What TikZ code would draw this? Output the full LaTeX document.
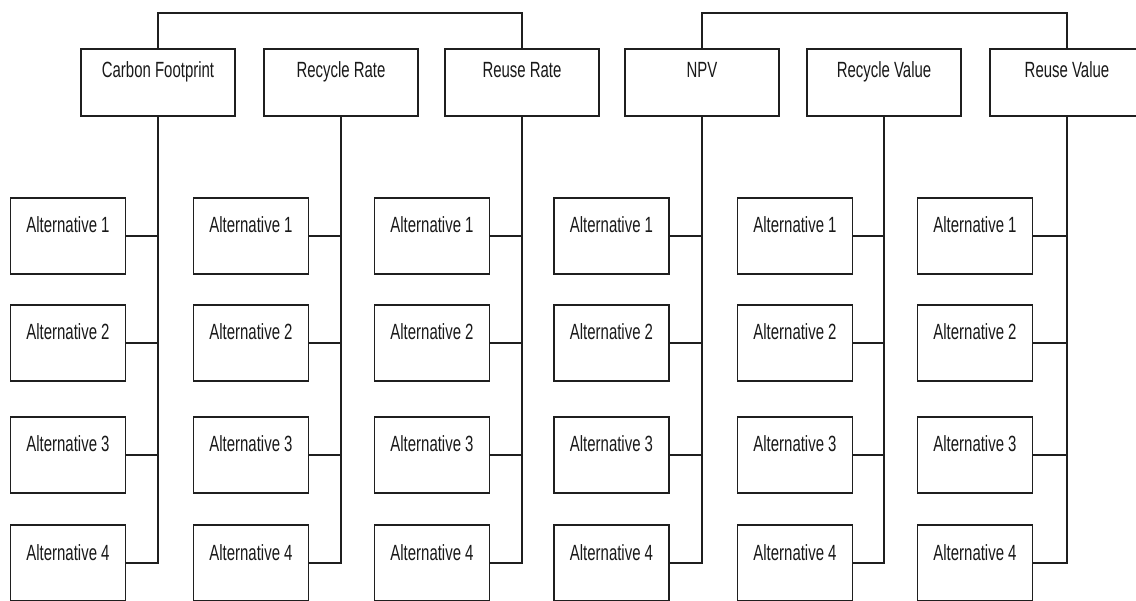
\documentclass[tikz,border=0pt]{standalone}
\usepackage{fontspec}
\newfontfamily\narrowsans[FakeStretch=0.68]{Liberation Sans}
\begin{document}
\begin{tikzpicture}[x=1pt,y=-1pt,
  ink/.style={draw=black!88,line width=1.2pt},
  boxtext/.style={font=\narrowsans\fontsize{22}{26}\selectfont,text=black!90,
    inner sep=0pt,text height=16pt},
  critbox/.style={ink,boxtext,text depth=25pt,fill=white,minimum width=154pt,minimum height=67pt},
  altbox/.style={ink,boxtext,text depth=22pt,fill=white,minimum width=115pt,minimum height=76pt},
  link/.style={ink,line cap=rect}]
\clip (0,0) rectangle (1136,601);
\fill[white] (0,0) rectangle (1136,601);

% level of the two top brackets
\coordinate (top) at (0,13);

% criteria
\node[critbox] (cf)  at (158,82.5)  {Carbon Footprint};
\node[critbox] (rcr) at (341,82.5)  {Recycle Rate};
\node[critbox] (rur) at (522,82.5)  {Reuse Rate};
\node[critbox] (npv) at (702,82.5)  {NPV};
\node[critbox] (rcv) at (884,82.5)  {Recycle Value};
\node[critbox] (ruv) at (1067,82.5) {Reuse Value};

% alternatives, one column per criterion
\foreach \c/\x in {1/68,2/251,3/432,4/611.5,5/795,6/975}{
  \foreach \r/\y in {1/236,2/343,3/455,4/563}{
    \node[altbox] (a\c\r) at (\x,\y) {Alternative \r};
  }
}

% brackets over the criteria
\draw[link] (cf.north) -- (cf.north |- top) -| (rur.north);
\draw[link] (npv.north) -- (npv.north |- top) -| (ruv.north);

% spines and branches
\foreach \c/\k in {1/cf,2/rcr,3/rur,4/npv,5/rcv,6/ruv}{
  \draw[link] (\k.south) |- (a\c4.east);
  \foreach \r in {1,2,3}{
    \draw[link] (a\c\r.east) -- (a\c\r.east -| \k.south);
  }
}
\end{tikzpicture}
\end{document}
